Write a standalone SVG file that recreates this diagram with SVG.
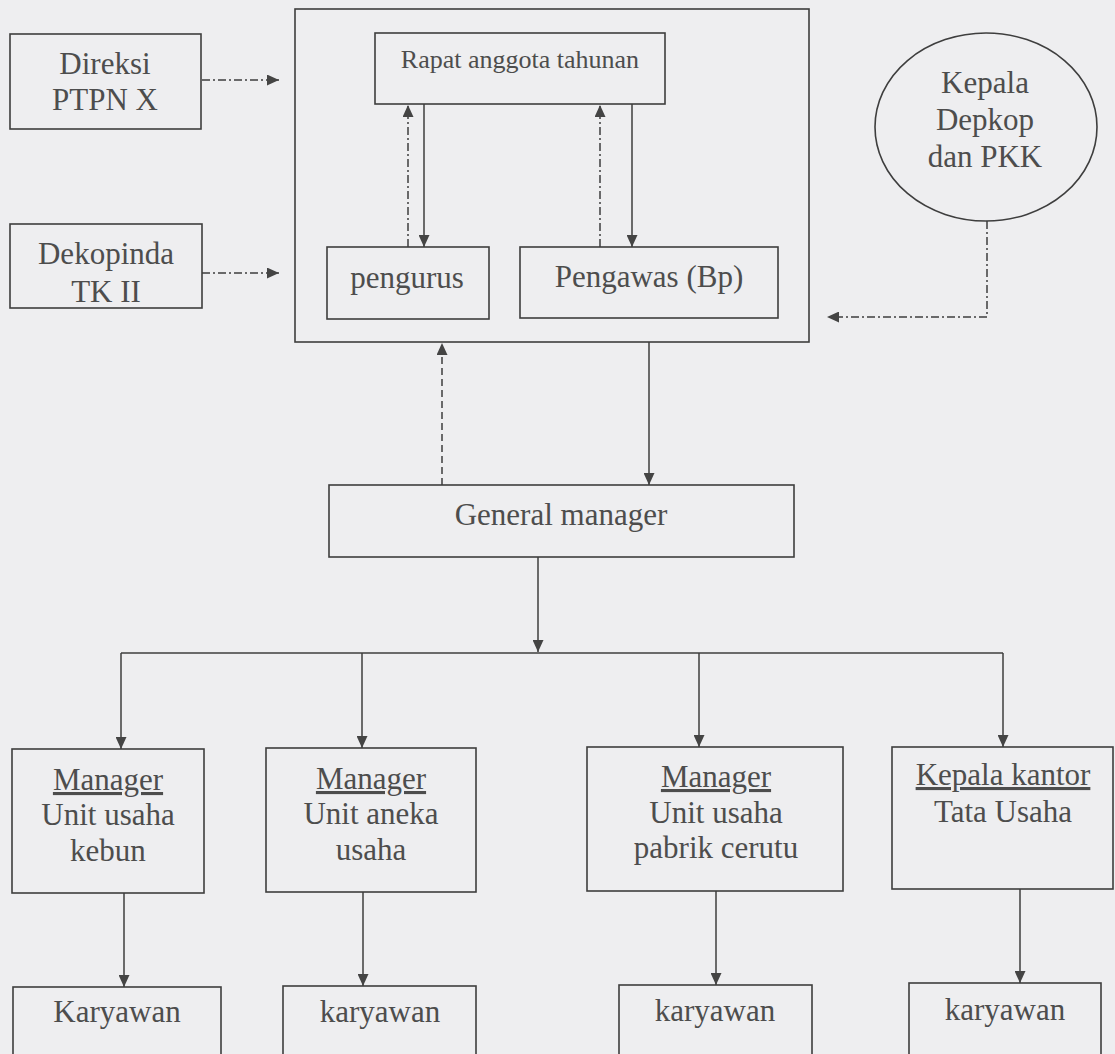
<svg xmlns="http://www.w3.org/2000/svg" width="1115" height="1054" viewBox="0 0 1115 1054">
<style>
.box{fill:none;stroke:#3e3e3e;stroke-width:1.6}
.t{font-family:"Liberation Serif","Times New Roman",serif;font-size:31px;fill:#4d4d4d;text-anchor:middle}
.s{font-size:26px}
.u{text-decoration:underline}
.c{fill:none;stroke:#3e3e3e;stroke-width:1.5}
.dd{stroke-dasharray:8 3 2 3}
.da{stroke-dasharray:7 4}
</style>
<defs>
<marker id="ah" markerUnits="userSpaceOnUse" markerWidth="12" markerHeight="11" refX="12" refY="5.5" orient="auto">
<path d="M0,0 L12,5.5 L0,11 z" fill="#444"/>
</marker>
</defs>
<rect x="0" y="0" width="1115" height="1054" fill="#eeeef0"/>

<g id="connectors">
<line class="c dd" x1="202" y1="80" x2="279" y2="80" marker-end="url(#ah)"/>
<line class="c dd" x1="202" y1="273" x2="279" y2="273" marker-end="url(#ah)"/>
<line class="c dd" x1="408" y1="247" x2="408" y2="105" marker-end="url(#ah)"/>
<line class="c" x1="424" y1="104" x2="424" y2="247" marker-end="url(#ah)"/>
<line class="c dd" x1="600" y1="247" x2="600" y2="105" marker-end="url(#ah)"/>
<line class="c" x1="632" y1="104" x2="632" y2="247" marker-end="url(#ah)"/>
<path class="c dd" d="M987,221 V317 H827" marker-end="url(#ah)"/>
<line class="c da" x1="442" y1="485" x2="442" y2="343" marker-end="url(#ah)"/>
<line class="c" x1="649" y1="342" x2="649" y2="485" marker-end="url(#ah)"/>
<line class="c" x1="538" y1="557" x2="538" y2="652" marker-end="url(#ah)"/>
<line class="c" x1="121" y1="653" x2="1003" y2="653"/>
<line class="c" x1="121" y1="653" x2="121" y2="749" marker-end="url(#ah)"/>
<line class="c" x1="362" y1="653" x2="362" y2="748" marker-end="url(#ah)"/>
<line class="c" x1="699" y1="653" x2="699" y2="747" marker-end="url(#ah)"/>
<line class="c" x1="1003" y1="653" x2="1003" y2="747" marker-end="url(#ah)"/>
<line class="c" x1="124" y1="893" x2="124" y2="987" marker-end="url(#ah)"/>
<line class="c" x1="363" y1="892" x2="363" y2="986" marker-end="url(#ah)"/>
<line class="c" x1="716" y1="891" x2="716" y2="985" marker-end="url(#ah)"/>
<line class="c" x1="1020" y1="889" x2="1020" y2="983" marker-end="url(#ah)"/>
</g>

<g id="direksi">
<rect class="box" x="10" y="34" width="191" height="95"/>
<text class="t" x="105" y="74">Direksi</text>
<text class="t" x="105" y="110">PTPN X</text>
</g>
<g id="dekopinda">
<rect class="box" x="10" y="224" width="192" height="84"/>
<text class="t" x="106" y="264">Dekopinda</text>
<text class="t" x="106" y="302">TK II</text>
</g>
<g id="koperasi">
<rect class="box" x="295" y="9" width="514" height="333"/>
</g>
<g id="rapat">
<rect class="box" x="375" y="33" width="290" height="71"/>
<text class="t s" x="520" y="68">Rapat anggota tahunan</text>
</g>
<g id="pengurus">
<rect class="box" x="327" y="247" width="162" height="72"/>
<text class="t" x="407" y="288">pengurus</text>
</g>
<g id="pengawas">
<rect class="box" x="520" y="247" width="258" height="71"/>
<text class="t" x="649" y="287">Pengawas (Bp)</text>
</g>
<g id="kepala-depkop">
<ellipse class="box" cx="986" cy="127" rx="111" ry="94"/>
<text class="t" x="985" y="93">Kepala</text>
<text class="t" x="985" y="130">Depkop</text>
<text class="t" x="985" y="167">dan PKK</text>
</g>
<g id="general-manager">
<rect class="box" x="329" y="485" width="465" height="72"/>
<text class="t" x="561" y="525">General manager</text>
</g>
<g id="unit-kebun">
<rect class="box" x="12" y="749" width="192" height="144"/>
<text class="t u" x="108" y="790">Manager</text>
<text class="t" x="108" y="825">Unit usaha</text>
<text class="t" x="108" y="861">kebun</text>
</g>
<g id="unit-aneka">
<rect class="box" x="266" y="748" width="210" height="144"/>
<text class="t u" x="371" y="789">Manager</text>
<text class="t" x="371" y="824">Unit aneka</text>
<text class="t" x="371" y="860">usaha</text>
</g>
<g id="unit-cerutu">
<rect class="box" x="587" y="747" width="256" height="144"/>
<text class="t u" x="716" y="787">Manager</text>
<text class="t" x="716" y="823">Unit usaha</text>
<text class="t" x="716" y="858">pabrik cerutu</text>
</g>
<g id="tata-usaha">
<rect class="box" x="892" y="747" width="221" height="142"/>
<text class="t u" x="1003" y="785">Kepala kantor</text>
<text class="t" x="1003" y="822">Tata Usaha</text>
</g>
<g id="karyawan-1">
<rect class="box" x="13" y="987" width="208" height="90"/>
<text class="t" x="117" y="1022">Karyawan</text>
</g>
<g id="karyawan-2">
<rect class="box" x="283" y="986" width="193" height="90"/>
<text class="t" x="380" y="1022">karyawan</text>
</g>
<g id="karyawan-3">
<rect class="box" x="619" y="985" width="193" height="90"/>
<text class="t" x="715" y="1021">karyawan</text>
</g>
<g id="karyawan-4">
<rect class="box" x="909" y="983" width="192" height="90"/>
<text class="t" x="1005" y="1020">karyawan</text>
</g>
</svg>
